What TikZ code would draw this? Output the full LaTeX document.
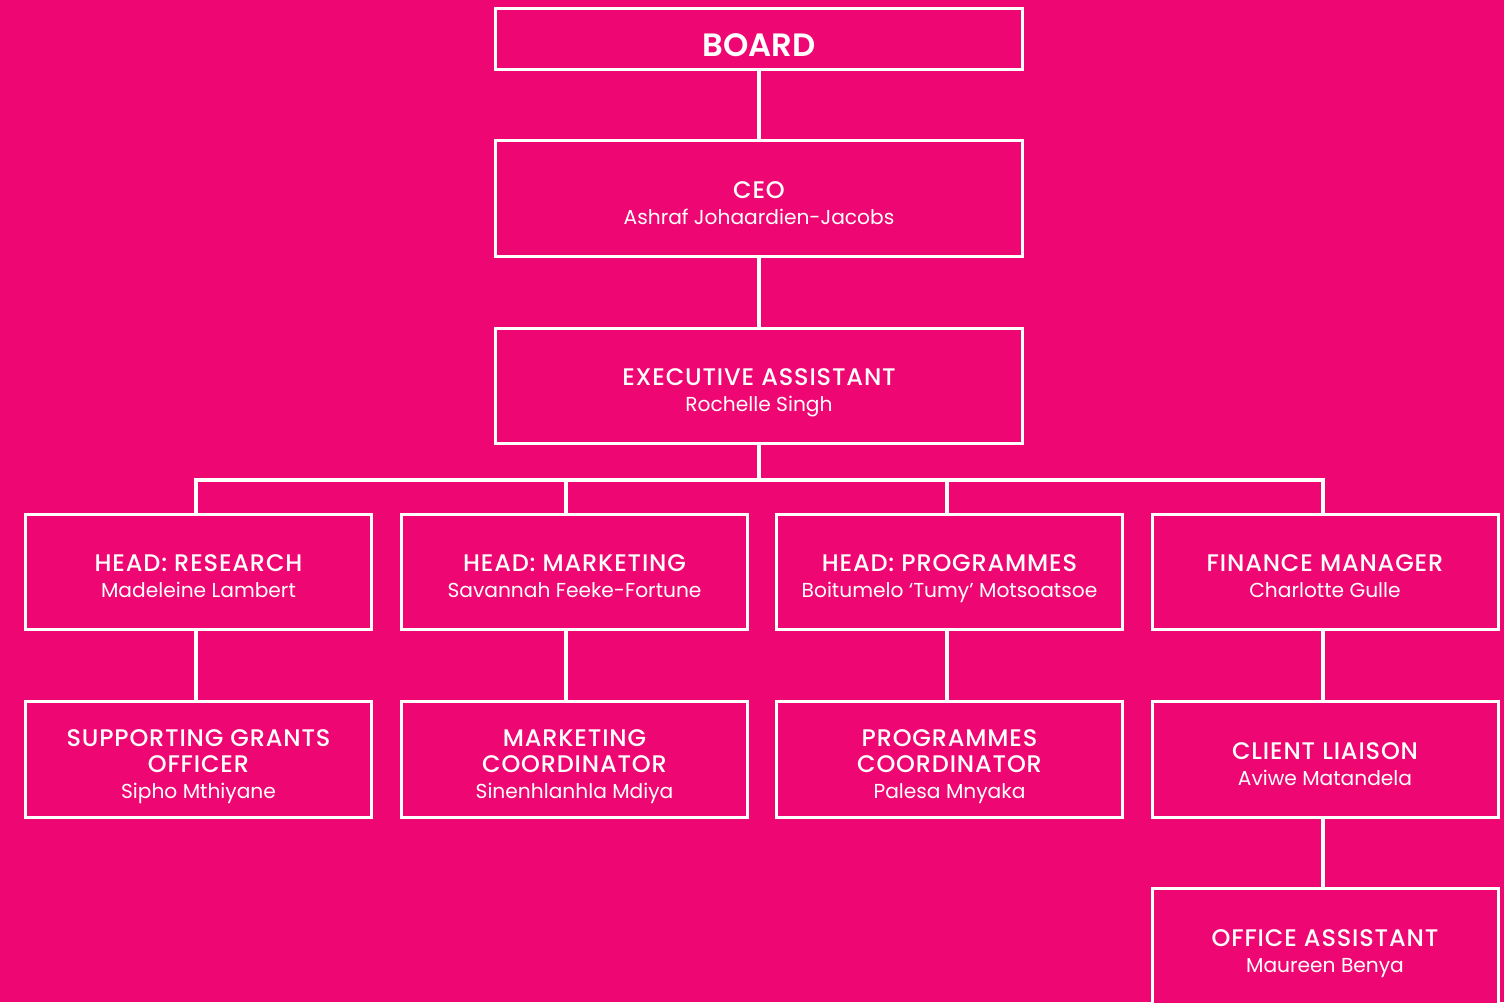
\documentclass[tikz,border=0pt]{standalone}
\usepackage{fontspec}
\setmainfont{Poppins}
\newfontfamily\titlefont{Poppins Medium}
\newfontfamily\boardfont{Poppins SemiBold}
\definecolor{brandpink}{HTML}{EE0772}
% position titles (caps) and names as one block, nudged slightly below centre
\newcommand\ttl[1]{{\titlefont\fontsize{24bp}{27bp}\selectfont\addfontfeature{LetterSpace=3.5}#1}}
\newcommand\cardtext[1]{\raisebox{-7.5bp}[\height][\depth]{\begin{tabular}{@{}c@{}}#1\end{tabular}}}
\begin{document}
\begin{tikzpicture}[x=1bp,y=-1bp,
  box/.style={draw=white, line width=3bp, fill=brandpink, text=white,
    align=center, inner sep=0pt, minimum width=346bp, minimum height=115bp,
    font=\fontsize{20.2bp}{26bp}\selectfont},
  widebox/.style={box, minimum width=527bp},
  link/.style={draw=white, line width=4.5bp}]
% canvas
\fill[brandpink] (0,0) rectangle (1504,1002);
\useasboundingbox (0,0) rectangle (1504,1002);

% top of the hierarchy
\node[widebox, minimum height=61bp, font=\boardfont\fontsize{32.3bp}{34bp}\selectfont] (board) at (759,39)
  {\raisebox{-6bp}[\height][\depth]{BOARD}};
\node[widebox, minimum height=116bp] (ceo) at (759,198.5)
  {\cardtext{\ttl{CEO}\\Ashraf Johaardien-Jacobs}};
\node[widebox] (ea) at (759,386)
  {\cardtext{\ttl{EXECUTIVE ASSISTANT}\\Rochelle Singh}};

% heads of department
\node[box] (h1) at (198.5,572) {\cardtext{\ttl{HEAD: RESEARCH}\\Madeleine Lambert}};
\node[box] (h2) at (574.5,572) {\cardtext{\ttl{HEAD: MARKETING}\\Savannah Feeke-Fortune}};
\node[box] (h3) at (949.5,572) {\cardtext{\ttl{HEAD: PROGRAMMES}\\Boitumelo ‘Tumy’ Motsoatsoe}};
\node[box] (h4) at (1325,572) {\cardtext{\ttl{FINANCE MANAGER}\\Charlotte Gulle}};

% staff
\node[box, minimum height=116bp] (s1) at (198.5,759.5)
  {\cardtext{\ttl{SUPPORTING GRANTS}\\\ttl{OFFICER}\\Sipho Mthiyane}};
\node[box, minimum height=116bp] (s2) at (574.5,759.5)
  {\cardtext{\ttl{MARKETING}\\\ttl{COORDINATOR}\\Sinenhlanhla Mdiya}};
\node[box, minimum height=116bp] (s3) at (949.5,759.5)
  {\cardtext{\ttl{PROGRAMMES}\\\ttl{COORDINATOR}\\Palesa Mnyaka}};
\node[box, minimum height=116bp] (s4) at (1325,759.5)
  {\cardtext{\ttl{CLIENT LIAISON}\\Aviwe Matandela}};
\node[box, minimum height=116bp] (s5) at (1325,946.5)
  {\cardtext{\ttl{OFFICE ASSISTANT}\\Maureen Benya}};

% reporting lines
\coordinate (bus) at (759,480);
\coordinate (c1) at (196,480);
\coordinate (c2) at (566,480);
\coordinate (c3) at (947,480);
\coordinate (c4) at (1323,480);

\draw[link] (board) -- (ceo);
\draw[link] (ceo) -- (ea);
\draw[link] (ea.south) -- (bus);
\draw[link] (c1 |- h1.north) -- (c1) -- (c4) -- (c4 |- h4.north);
\draw[link] (c2) -- (c2 |- h2.north);
\draw[link] (c3) -- (c3 |- h3.north);

\draw[link] (c1 |- h1.south) -- (c1 |- s1.north);
\draw[link] (c2 |- h2.south) -- (c2 |- s2.north);
\draw[link] (c3 |- h3.south) -- (c3 |- s3.north);
\draw[link] (c4 |- h4.south) -- (c4 |- s4.north);
\draw[link] (c4 |- s4.south) -- (c4 |- s5.north);
\end{tikzpicture}
\end{document}
